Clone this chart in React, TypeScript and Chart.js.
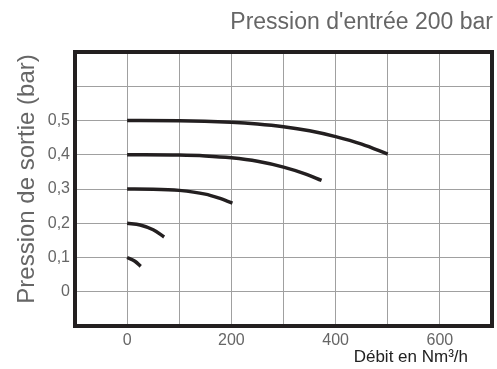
import React, { useEffect, useRef } from "react";
import { Chart, registerables } from "chart.js";

Chart.register(...registerables);

const chartTitle = "Pression d'entrée 200 bar";
const yAxisTitle = "Pression de sortie (bar)";
const xAxisTitle = "Débit en Nm³/h";

const xLabelTicks = [0, 200, 400, 600];
const yLabelTicks = [0, 0.1, 0.2, 0.3, 0.4, 0.5];

const flow05 = [0, 100, 200, 250, 300, 350, 400, 450, 500];
const pres05 = [0.5, 0.4995, 0.495, 0.49, 0.482, 0.47, 0.453, 0.431, 0.402];

const flow04 = [0, 100, 150, 200, 250, 300, 340, 373];
const pres04 = [0.4, 0.399, 0.3965, 0.391, 0.381, 0.364, 0.345, 0.325];

const flow03 = [0, 50, 100, 150, 175, 202];
const pres03 = [0.3, 0.2995, 0.296, 0.285, 0.274, 0.259];

const flow02 = [0, 25, 50, 71];
const pres02 = [0.2, 0.195, 0.181, 0.16];

const flow01 = [0, 15, 26];
const pres01 = [0.1, 0.089, 0.074];

const series = [
  [flow05, pres05],
  [flow04, pres04],
  [flow03, pres03],
  [flow02, pres02],
  [flow01, pres01],
];

const FONT = "'Liberation Sans', Arial, Helvetica, sans-serif";

export default function App() {
  const ref = useRef<HTMLCanvasElement | null>(null);

  useEffect(() => {
    if (!ref.current) return;
    const frame = {
      id: "frameAndTitles",
      afterDraw(chart: any) {
        const { ctx, chartArea } = chart;
        ctx.save();
        ctx.strokeStyle = "#231f20";
        ctx.lineWidth = 4;
        ctx.strokeRect(
          chartArea.left,
          chartArea.top,
          chartArea.right - chartArea.left,
          chartArea.bottom - chartArea.top
        );
        // chart title
        ctx.fillStyle = "#666666";
        ctx.font = `23px ${FONT}`;
        ctx.textAlign = "right";
        ctx.textBaseline = "middle";
        ctx.fillText(chartTitle, 493, 23);
        // y axis title
        ctx.font = `24px ${FONT}`;
        ctx.textAlign = "center";
        ctx.translate(27, 179);
        ctx.rotate(-Math.PI / 2);
        ctx.fillText(yAxisTitle, 0, 0);
        ctx.restore();
        // x axis title
        ctx.save();
        ctx.fillStyle = "#222222";
        ctx.font = `17px ${FONT}`;
        ctx.textAlign = "right";
        ctx.textBaseline = "middle";
        ctx.fillText(xAxisTitle, 468, 357);
        ctx.restore();
      },
    };

    const chart = new Chart(ref.current, {
      type: "line",
      data: {
        datasets: series.map(([xs, ys]) => ({
          data: xs.map((x, i) => ({ x, y: ys[i] })),
          borderColor: "#231f20",
          borderWidth: 3.5,
          pointRadius: 0,
          cubicInterpolationMode: "monotone" as const,
          fill: false,
        })),
      },
      options: {
        responsive: false,
        animation: false,
        layout: { padding: { left: 0, right: 2, top: 52, bottom: 0 } },
        plugins: {
          legend: { display: false },
          tooltip: { enabled: false },
          title: { display: false },
        },
        scales: {
          x: {
            type: "linear",
            min: -100,
            max: 700,
            border: { display: false },
            grid: { color: "#a0a0a0", lineWidth: 1, drawTicks: false },
            ticks: {
              stepSize: 100,
              padding: 5,
              color: "#666666",
              font: { family: FONT, size: 16 },
              autoSkip: false,
              maxRotation: 0,
              callback: (v: any) => {
                const n = Math.round(Number(v));
                return xLabelTicks.includes(n) ? String(n) : "";
              },
            },
            afterFit: (scale: any) => {
              scale.height = 43;
            },
          },
          y: {
            type: "linear",
            min: -0.1,
            max: 0.7,
            border: { display: false },
            grid: { color: "#a0a0a0", lineWidth: 1, drawTicks: false },
            ticks: {
              stepSize: 0.1,
              padding: 5,
              color: "#666666",
              font: { family: FONT, size: 16 },
              autoSkip: false,
              callback: (v: any) => {
                const n = Math.round(Number(v) * 10) / 10;
                if (!yLabelTicks.includes(n)) return "";
                return String(n).replace(".", ",");
              },
            },
            afterFit: (scale: any) => {
              scale.width = 75;
            },
          },
        },
      },
      plugins: [frame],
    });
    return () => chart.destroy();
  }, []);

  return (
    <div style={{ position: "absolute", left: 0, top: 0, width: 497, height: 369, background: "#fff" }}>
      <canvas ref={ref} width={497} height={369} style={{ width: 497, height: 369 }} />
    </div>
  );
}
